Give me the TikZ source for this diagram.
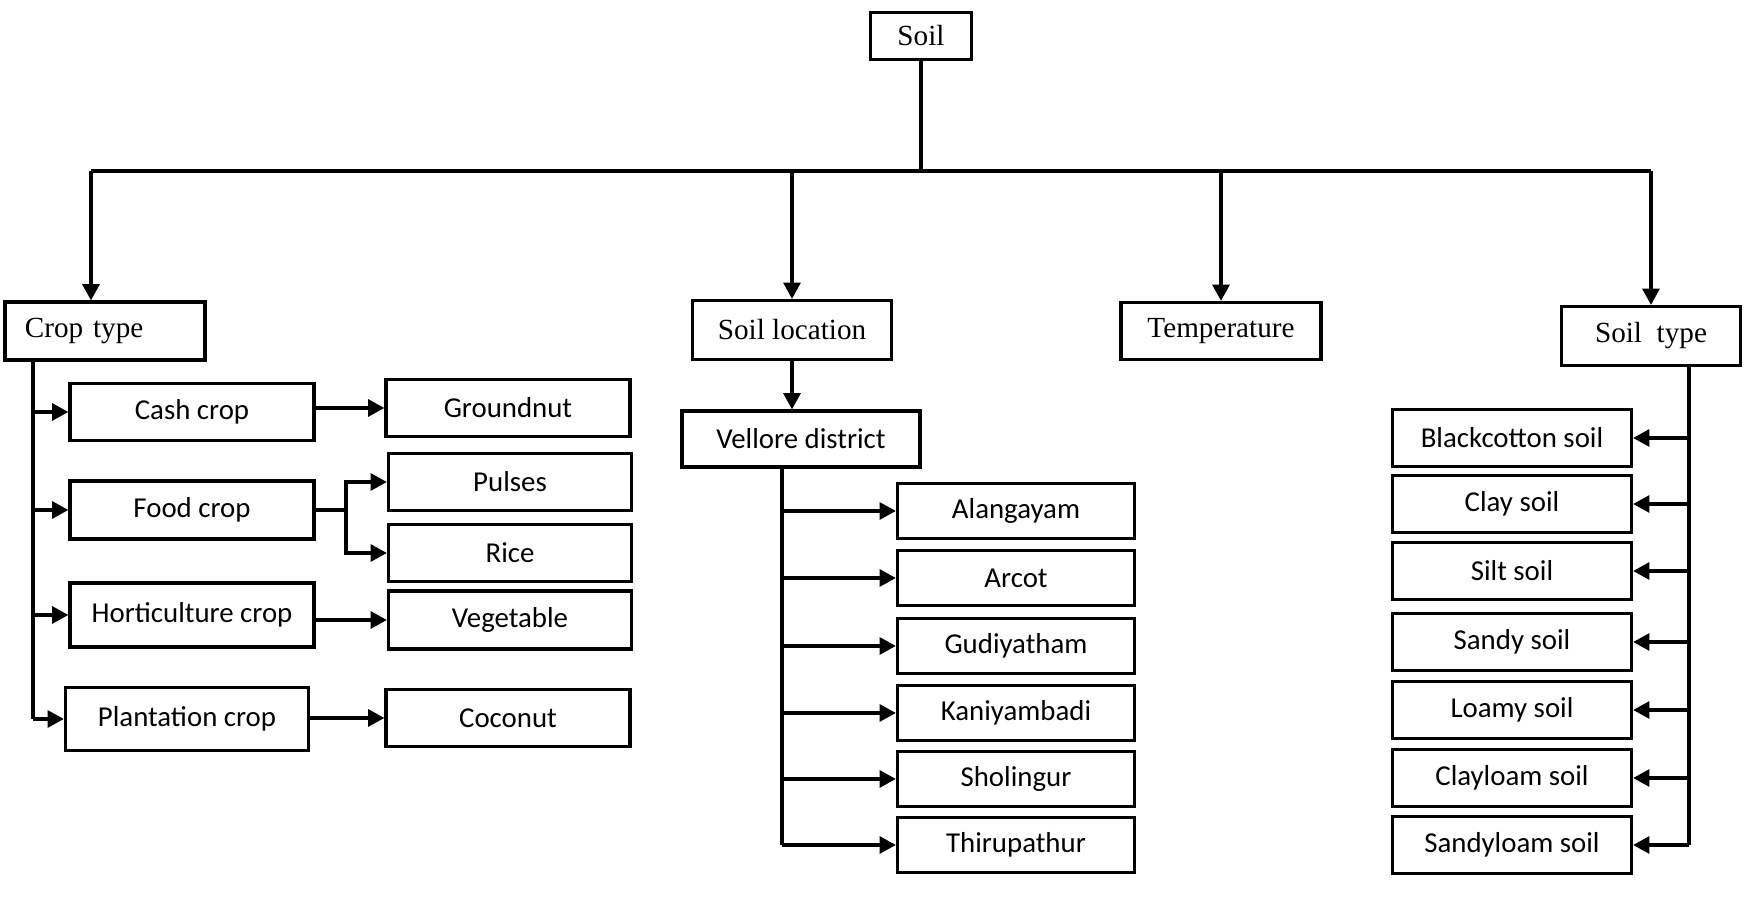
\documentclass[tikz,border=0pt]{standalone}
\usepackage{fontspec}
\setmainfont{Liberation Serif}
\newfontfamily\calfont{Carlito}
\usetikzlibrary{arrows.meta}
\tikzset{
  box/.style={draw,line width=0.9pt,inner sep=0pt},
  topbox/.style={box,font=\fontsize{8.3}{10}\selectfont,minimum height=0.57cm},
  subbox/.style={box,font=\calfont\fontsize{8.2}{10}\selectfont,minimum height=0.57cm},
  link/.style={line width=0.9pt},
  arr/.style={link,-{Triangle[length=4.6pt,width=4.8pt]}}
}
\begin{document}
\begin{tikzpicture}[x=0.01cm,y=-0.01cm]
\useasboundingbox (0,0) rectangle (1750,898);
% top level
\node[topbox,minimum width=1.01cm,minimum height=0.47cm] (soil) at (921,36) {Soil};
\node[box,font=\fontsize{8.3}{10}\selectfont,text width=1.6cm,inner xsep=0.2cm,align=left,minimum height=0.58cm] (crop) at (105,331) {Crop type};
\node[topbox,minimum width=1.99cm,minimum height=0.59cm] (soilloc) at (792,330) {Soil location};
\node[topbox,minimum width=2.0cm] (temp) at (1221,331) {Temperature};
\node[topbox,minimum width=1.79cm,minimum height=0.59cm] (stype) at (1651,336) {Soil\ \ type};
\coordinate (busL) at (91,171);
\coordinate (busR) at (stype.north |- busL);
\draw[link] (soil) -- (soil |- busL);
\draw[link] (busL) -- (busR);
\draw[arr] (busL) -- (busL |- crop.north);
\draw[arr] (soilloc.north |- busL) -- (soilloc.north);
\draw[arr] (temp.north |- busL) -- (temp.north);
\draw[arr] (busR) -- (stype.north);
% crop type
\node[subbox,minimum width=2.44cm] (cash) at (192,412) {Cash crop};
\node[subbox,minimum width=2.44cm,minimum height=0.58cm] (food) at (192,510) {Food crop};
\node[subbox,minimum width=2.44cm,minimum height=0.64cm] (hort) at (192,615) {Horticulture crop};
\node[subbox,minimum width=2.43cm,minimum height=0.63cm] (plant) at (187,719) {Plantation crop};
\node[subbox,minimum width=2.44cm] (ground) at (508,408) {Groundnut};
\node[subbox,minimum width=2.43cm] (pulses) at (510,482) {Pulses};
\node[subbox,minimum width=2.43cm] (rice) at (510,553) {Rice};
\node[subbox,minimum width=2.43cm,minimum height=0.58cm] (veg) at (510,620) {Vegetable};
\node[subbox,minimum width=2.44cm] (coco) at (508,718) {Coconut};
\coordinate (cspine) at (33,0);
\draw[link] (crop.south -| cspine) -- (plant.west -| cspine);
\foreach \name in {cash,food,hort,plant}
  \draw[arr] (\name.west -| cspine) -- (\name.west);
\draw[arr] (cash.east |- ground.west) -- (ground.west);
\draw[arr] (hort.east |- veg.west) -- (veg.west);
\draw[arr] (plant.east |- coco.west) -- (coco.west);
\coordinate (fork) at (346,0);
\draw[link] (food.east) -- (food.east -| fork);
\draw[arr] (food.east -| fork) |- (pulses.west);
\draw[arr] (food.east -| fork) |- (rice.west);
% soil location
\node[subbox,minimum width=2.38cm,minimum height=0.56cm] (vellore) at (801,439) {Vellore district};
\draw[arr] (soilloc.south) -- (soilloc.south |- vellore.north);
\coordinate (vspine) at (782,0);
\foreach \name/\txt/\y in {alan/Alangayam/511,arcot/Arcot/578,gudi/Gudiyatham/646,
    kani/Kaniyambadi/713,shol/Sholingur/779,thiru/Thirupathur/845}{
  \node[subbox,minimum width=2.37cm,minimum height=0.55cm] (\name) at (1016,\y) {\txt};
  \draw[arr] (\name.west -| vspine) -- (\name.west);
}
\draw[link] (vellore.south -| vspine) -- (thiru.west -| vspine);
% soil type
\coordinate (tspine) at (1689,0);
\foreach \name/\txt/\y in {black/Blackcotton soil/438,clay/Clay soil/504,silt/Silt soil/571,
    sandy/Sandy soil/642,loamy/Loamy soil/710,clayloam/Clayloam soil/778,sandyloam/Sandyloam soil/845}{
  \node[subbox,minimum width=2.39cm] (\name) at (1512,\y) {\txt};
  \draw[arr] (\name.east -| tspine) -- (\name.east);
}
\draw[link] (stype.south -| tspine) -- (sandyloam.east -| tspine);
\end{tikzpicture}
\end{document}
